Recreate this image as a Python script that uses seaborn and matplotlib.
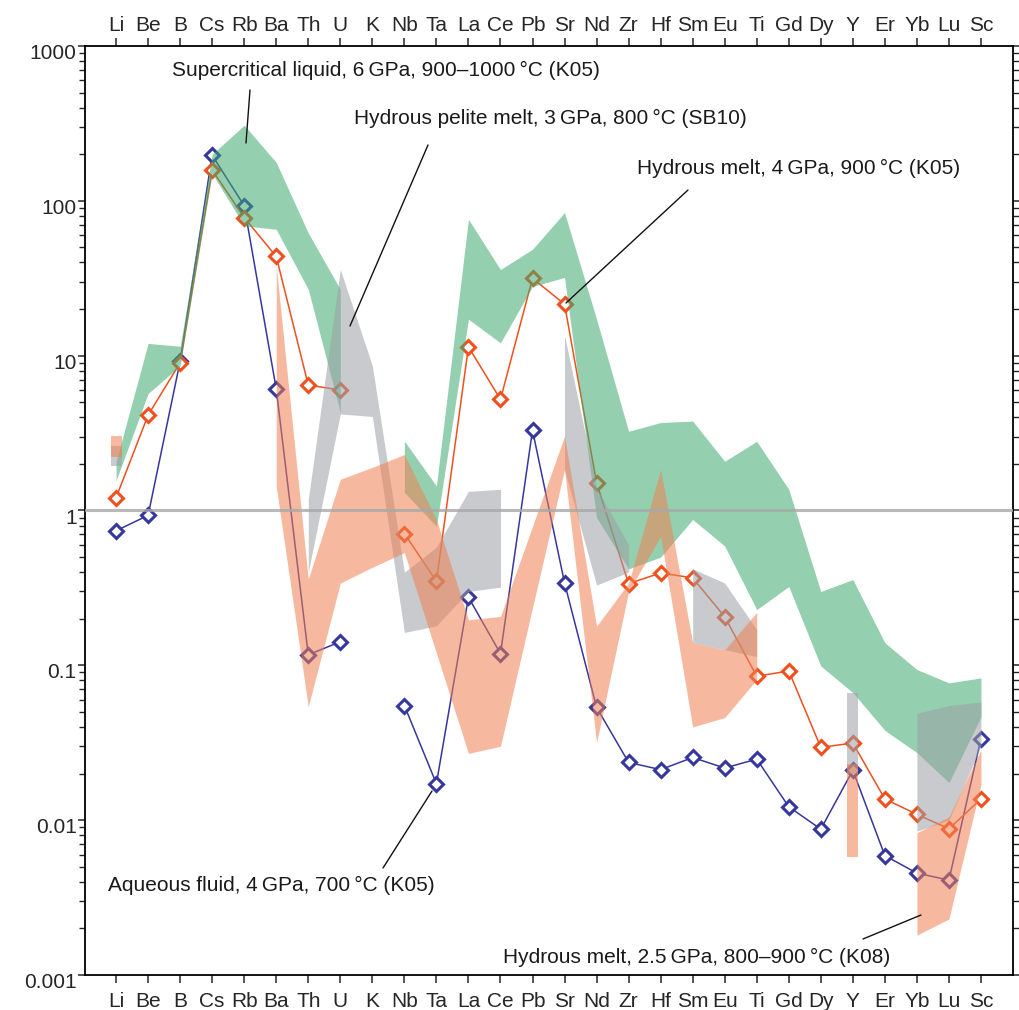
import numpy as np
import pandas as pd
import matplotlib
matplotlib.use("Agg")
import matplotlib.pyplot as plt
from matplotlib.lines import Line2D
from matplotlib.ticker import FixedLocator, LogLocator, NullFormatter
from matplotlib.transforms import ScaledTranslation
import seaborn as sns

nan = np.nan

# Elements along the x axis
elements = ['Li', 'Be', 'B', 'Cs', 'Rb', 'Ba', 'Th', 'U', 'K', 'Nb', 'Ta', 'La', 'Ce', 'Pb',
            'Sr', 'Nd', 'Zr', 'Hf', 'Sm', 'Eu', 'Ti', 'Gd', 'Dy', 'Y', 'Er', 'Yb', 'Lu', 'Sc']

# Aqueous fluid, 4 GPa, 700 °C (K05)
aqueous_fluid = [0.74, 0.93, 9.2, 197, 93, 6.1, 0.117, 0.142, nan, 0.055, 0.0172, 0.275, 0.119,
                 3.3, 0.341, 0.0535, 0.0236, 0.0212, 0.0254, 0.0217, 0.0248, 0.0122, 0.00875,
                 0.021, 0.0059, 0.00455, 0.0041, 0.0336]

# Hydrous melt, 4 GPa, 900 °C (K05)
hydrous_melt_4gpa = [1.21, 4.13, 9.0, 158, 78, 43.7, 6.46, 6.0, nan, 0.71, 0.349, 11.4, 5.22,
                     31.6, 21.5, 1.51, 0.337, 0.395, 0.367, 0.206, 0.085, 0.092, 0.0295,
                     0.0315, 0.0137, 0.0109, 0.0088, 0.0137]

# Supercritical liquid, 6 GPa, 900-1000 °C (K05): upper / lower envelope
supercrit_hi = [2.07, 12.0, 11.5, 200, 308, 177, 62, 26.8, nan, 2.81, 1.44, 76, 36, 48.7, 84,
                17.2, 3.25, 3.7, 3.78, 2.08, 2.8, 1.37, 0.30, 0.358, 0.14, 0.094, 0.077, 0.083]
supercrit_lo = [1.56, 5.7, 8.6, 150, 69, 65.5, 26.8, 4.3, nan, 1.31, 0.79, 17.2, 12.1, 28, 32,
                0.9, 0.42, 0.5, 0.875, 0.59, 0.229, 0.323, 0.099, 0.0667, 0.038, 0.0273,
                0.0175, 0.0465]

# Hydrous pelite melt, 3 GPa, 800 °C (SB10): upper / lower envelope
pelite_hi = [2.6, nan, nan, nan, nan, nan, 1.18, 36, 8.6, 0.40, 0.58, 1.33, 1.37, nan, 13.5,
             1.4, 0.6, nan, 0.42, 0.34, 0.17, nan, nan, 0.0665, nan, 0.049, 0.055, 0.058]
pelite_lo = [1.93, nan, nan, nan, nan, nan, 0.40, 4.2, 4.05, 0.163, 0.18, 0.30, 0.32, nan, 1.84,
             0.33, 0.4, nan, 0.14, 0.126, 0.114, nan, nan, 0.02, nan, 0.0085, 0.01, 0.03]

# Hydrous melt, 2.5 GPa, 800-900 °C (K08): upper / lower envelope
melt_25_hi = [3.02, nan, nan, nan, nan, 38, 0.36, 1.59, 1.9, 2.3, 0.875, 0.197, 0.207, 0.79,
              3.02, 0.179, 0.34, 1.84, 0.14, 0.126, 0.22, nan, nan, 0.023, nan, 0.0083,
              0.0105, 0.0285]
melt_25_lo = [2.2, nan, nan, nan, nan, 1.43, 0.054, 0.34, 0.43, 0.535, 0.12, 0.027, 0.03, 0.236,
              1.84, 0.0317, 0.3, 0.68, 0.04, 0.046, 0.081, nan, nan, 0.0058, nan, 0.00181,
              0.0023, 0.017]

y_ticks = [0.001, 0.01, 0.1, 1, 10, 100, 1000]
y_tick_labels = ['0.001', '0.01', '0.1', '1', '10', '100', '1000']

sns.set_theme(style='ticks')
plt.rcParams['font.family'] = ['Liberation Sans', 'DejaVu Sans']
plt.rcParams['axes.linewidth'] = 1.3

FS = 15
W, H = 1019, 1010
fig = plt.figure(figsize=(W / 100, H / 100), dpi=100)
ax = fig.add_axes([85 / W, 1 - 975 / H, (1013 - 85) / W, (975 - 46) / H])

pos = np.arange(len(elements))


def segments(values):
    """Split a series into runs of consecutive valid values."""
    runs, cur = [], []
    for i, v in enumerate(values):
        if np.isnan(v):
            if cur:
                runs.append(cur)
            cur = []
        else:
            cur.append(i)
    if cur:
        runs.append(cur)
    return runs


def draw_band(hi, lo, color, alpha=0.55):
    hi = np.asarray(hi, float)
    lo = np.asarray(lo, float)
    for run in segments(hi):
        idx = np.array(run)
        if len(idx) == 1:
            i = idx[0]
            xs = np.array([pos[i] - 0.17, pos[i] + 0.17])
            ax.fill_between(xs, [lo[i]] * 2, [hi[i]] * 2, color=color, alpha=alpha,
                            linewidth=0, zorder=4)
        else:
            ax.fill_between(pos[idx], lo[idx], hi[idx], color=color, alpha=alpha,
                            linewidth=0, zorder=4)


def series_frame(values):
    rows = []
    for k, run in enumerate(segments(values)):
        for i in run:
            rows.append({'pos': pos[i], 'val': values[i], 'seg': k})
    return pd.DataFrame(rows)


# Data lines (drawn first, translucent bands lie over them)
for values, color in [(aqueous_fluid, '#36369f'), (hydrous_melt_4gpa, '#f0501e')]:
    df = series_frame(np.asarray(values, float))
    sns.lineplot(data=df, x='pos', y='val', units='seg', estimator=None, sort=False,
                 color=color, linewidth=1.1, marker='D', markersize=7.5,
                 markerfacecolor='white', markeredgecolor=color, markeredgewidth=2.2,
                 ax=ax, zorder=3, legend=False)

# Compositional ranges
draw_band(supercrit_hi, supercrit_lo, '#3daa6e')
draw_band(pelite_hi, pelite_lo, '#9b9fa5')
draw_band(melt_25_hi, melt_25_lo, '#f08052')

# Reference line at unity
ax.axhline(1, color='#a8a8a8', linewidth=2.2, alpha=0.8, zorder=6)

ax.set_yscale('log')
ax.set_ylim(0.001, 1000)
ax.set_xlim(-0.97, 28.0)
ax.set_xlabel('')
ax.set_ylabel('')

ax.set_xticks(pos)
ax.set_xticklabels(elements)
ax.yaxis.set_major_locator(FixedLocator(y_ticks))
ax.set_yticklabels(y_tick_labels)
ax.yaxis.set_minor_locator(LogLocator(base=10, subs=np.arange(2, 10), numticks=20))
ax.yaxis.set_minor_formatter(NullFormatter())

ax.tick_params(axis='x', which='both', direction='out', top=True, bottom=True,
               labeltop=True, labelbottom=True, length=6, width=1.1, labelsize=FS,
               pad=2)
ax.tick_params(axis='y', which='major', direction='out', left=True, right=True,
               labelleft=True, labelright=False, length=5, width=1.1, labelsize=FS,
               pad=1)
ax.tick_params(axis='y', which='minor', direction='out', left=True, right=True,
               length=4.5, width=1.0)

# y labels sit a little below their ticks; bottom x labels a little further from the axis
y_shift = ScaledTranslation(0, -4 / 72, fig.dpi_scale_trans)
for lab in ax.get_yticklabels():
    lab.set_transform(lab.get_transform() + y_shift)
x_shift = ScaledTranslation(0, -4 / 72, fig.dpi_scale_trans)
for tick in ax.xaxis.get_major_ticks():
    tick.label1.set_transform(tick.label1.get_transform() + x_shift)

for s in ax.spines.values():
    s.set_color('black')
    s.set_linewidth(1.3)
ax.grid(False)


def fx(px):
    return px / W


def fy(py):
    return 1 - py / H


labels = [
    ('Supercritical liquid, 6\u2009GPa, 900\u20131000\u2009\u00b0C (K05)', 172, 70,
     (250, 90), (246, 143)),
    ('Hydrous pelite melt, 3\u2009GPa, 800\u2009\u00b0C (SB10)', 354, 118,
     (428, 145), (350, 326)),
    ('Hydrous melt, 4\u2009GPa, 900\u2009\u00b0C (K05)', 637, 168,
     (688, 190), (566, 303)),
    ('Aqueous fluid, 4\u2009GPa, 700\u2009\u00b0C (K05)', 108, 885,
     (432, 791), (383, 868)),
    ('Hydrous melt, 2.5\u2009GPa, 800\u2013900\u2009\u00b0C (K08)', 503, 957,
     (921, 915), (863, 939)),
]
for text, tx, ty, p0, p1 in labels:
    fig.text(fx(tx), fy(ty), text, fontsize=FS, ha='left', va='center', color='#1a1a1a',
             zorder=10)
    fig.add_artist(Line2D([fx(p0[0]), fx(p1[0])], [fy(p0[1]), fy(p1[1])],
                          color='#111111', linewidth=1.0, zorder=10))

fig.savefig('out.png', dpi=100, facecolor='white')
